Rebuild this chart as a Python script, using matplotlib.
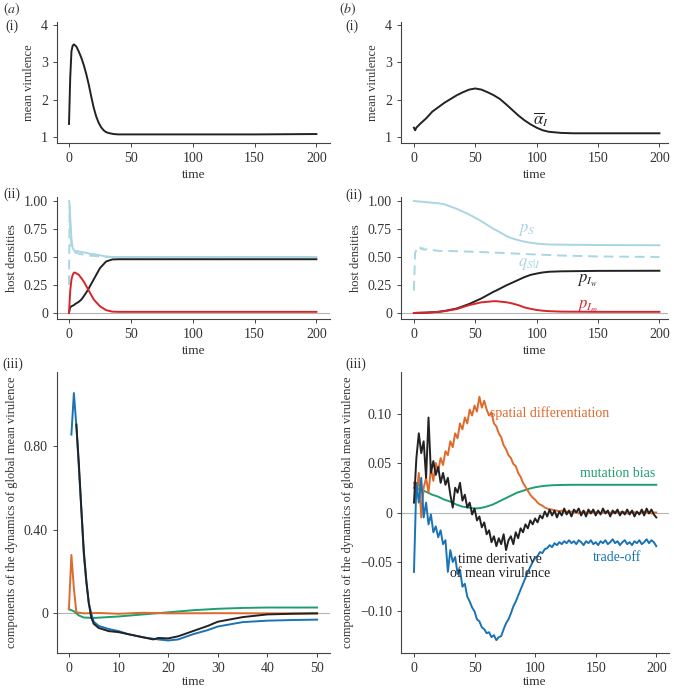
import numpy as np
import matplotlib
matplotlib.use("Agg")
import matplotlib.pyplot as plt

plt.rcParams['font.family'] = ['Liberation Serif', 'DejaVu Serif']
plt.rcParams['mathtext.fontset'] = 'stix'

#---------------------------- colours ----------------------------
c_black = '#222222'
c_lblue = '#a9d6e3'
c_red = '#d7262b'
c_orange = '#de6a2c'
c_green = '#1f9e6e'
c_blue = '#1a73b5'
c_grey = '#b5b5b5'

#---------------------------- (a)(i) mean virulence ----------------------------
t_a1 = [0, 1, 2, 3, 4, 6, 8, 10, 12, 14, 16, 18, 20, 22, 24, 26, 28, 30, 33, 36, 40, 60, 100, 150, 200]
vir_a1 = [1.35, 2.6, 3.3, 3.45, 3.48, 3.42, 3.28, 3.12, 2.92, 2.68, 2.4, 2.08, 1.78, 1.55, 1.38,
          1.26, 1.18, 1.13, 1.1, 1.08, 1.07, 1.07, 1.07, 1.07, 1.08]

#---------------------------- (b)(i) mean virulence ----------------------------
t_b1 = [0, 1, 2, 5, 10, 15, 20, 25, 30, 35, 40, 45, 50, 55, 60, 65, 70, 75, 80, 85, 90, 95,
        100, 105, 110, 120, 130, 150, 200]
vir_b1 = [1.25, 1.18, 1.25, 1.35, 1.5, 1.68, 1.8, 1.92, 2.02, 2.12, 2.2, 2.27, 2.3, 2.27, 2.2,
          2.12, 2.02, 1.88, 1.73, 1.58, 1.45, 1.34, 1.25, 1.18, 1.14, 1.11, 1.1, 1.1, 1.1]

#---------------------------- (a)(ii) host densities ----------------------------
t_a2 = [0, 0.5, 1, 2, 3, 4, 5, 8, 10, 12, 15, 16, 20, 25, 30, 35, 40, 60, 100, 150, 200]
pS_a2 = [1.0, 0.97, 0.85, 0.66, 0.58, 0.56, 0.555, 0.55, 0.545, 0.54, 0.535, 0.53, 0.525,
         0.515, 0.505, 0.5, 0.5, 0.5, 0.5, 0.5, 0.5]
qS_a2 = [0.25, 0.95, 0.75, 0.6, 0.56, 0.55, 0.54, 0.53, 0.525, 0.52, 0.515, 0.512, 0.51,
         0.505, 0.5, 0.5, 0.498, 0.498, 0.498, 0.498, 0.498]
pIw_a2 = [0.0, 0.03, 0.05, 0.06, 0.065, 0.07, 0.08, 0.1, 0.12, 0.15, 0.2, 0.22, 0.3, 0.4,
          0.46, 0.478, 0.48, 0.48, 0.48, 0.48, 0.48]
pIm_a2 = [0.0, 0.1, 0.2, 0.3, 0.34, 0.36, 0.36, 0.34, 0.31, 0.28, 0.22, 0.2, 0.12, 0.06,
          0.025, 0.012, 0.01, 0.01, 0.01, 0.01, 0.01]

#---------------------------- (b)(ii) host densities ----------------------------
t_b2 = [0, 10, 20, 25, 35, 45, 55, 60, 65, 67, 75, 78, 80, 85, 90, 95, 100, 105, 110, 120, 150, 200]
pS_b2 = [1.0, 0.99, 0.98, 0.97, 0.93, 0.88, 0.82, 0.785, 0.75, 0.74, 0.69, 0.675, 0.667,
         0.65, 0.637, 0.627, 0.62, 0.615, 0.612, 0.61, 0.607, 0.605]
pIw_b2 = [0.0, 0.003, 0.01, 0.018, 0.04, 0.08, 0.13, 0.16, 0.19, 0.2, 0.245, 0.26, 0.27,
          0.295, 0.32, 0.34, 0.352, 0.362, 0.368, 0.372, 0.376, 0.377]
pIm_b2 = [0.0, 0.003, 0.01, 0.016, 0.035, 0.07, 0.095, 0.1, 0.105, 0.105, 0.096, 0.09,
          0.085, 0.07, 0.05, 0.037, 0.027, 0.02, 0.016, 0.012, 0.01, 0.01]
t_b2q = [0, 1, 2, 3, 4, 5, 6, 7, 8, 10, 12, 15, 20, 30, 45, 60, 80, 100, 120, 150, 200]
qS_b2 = [0.2, 0.54, 0.56, 0.575, 0.565, 0.585, 0.57, 0.58, 0.565, 0.57, 0.558, 0.562, 0.555,
         0.553, 0.548, 0.542, 0.532, 0.522, 0.513, 0.505, 0.5]

#---------------------------- (a)(iii) components ----------------------------
t_a3_blue = [0.5, 1.0, 1.5, 2, 2.5, 3, 3.5, 4, 4.5, 5, 6, 8, 10, 12, 15, 18, 20, 22, 25, 28,
             30, 35, 40, 45, 50]
trade_a3 = [0.857, 1.056, 0.9, 0.7, 0.5, 0.28, 0.15, 0.05, 0.0, -0.04, -0.06, -0.075, -0.085,
            -0.1, -0.115, -0.125, -0.13, -0.125, -0.1, -0.08, -0.063, -0.042, -0.035, -0.032, -0.03]
t_a3_black = [1.5, 2, 2.5, 3, 3.5, 4, 4.5, 5, 6, 8, 10, 12, 15, 17, 18, 20, 22, 25, 28, 30,
              35, 40, 45, 50]
deriv_a3 = [0.905, 0.72, 0.5, 0.3, 0.16, 0.05, -0.02, -0.05, -0.07, -0.085, -0.09, -0.1,
            -0.115, -0.125, -0.118, -0.12, -0.11, -0.085, -0.06, -0.04, -0.018, -0.005, -0.002, 0.0]
t_a3_orange = [0, 0.5, 1.0, 1.5, 3, 6, 10, 15, 20, 30, 40, 50]
spatial_a3 = [0.02, 0.28, 0.12, 0.005, 0.0, 0.002, -0.002, 0.003, 0.0, 0.001, 0.0, 0.0]
t_a3_green = [0, 1, 2, 3, 5, 10, 15, 20, 25, 30, 35, 40, 50]
mutation_a3 = [0.02, 0.01, -0.01, -0.02, -0.022, -0.015, -0.005, 0.005, 0.015, 0.022, 0.026,
               0.028, 0.028]

#---------------------------- (b)(iii) components ----------------------------
t_b3 = np.arange(0, 201, 2)
spatial_b3 = [0.030, 0.015, 0.040, -0.005, 0.025, 0.035, 0.020, 0.045, 0.032, 0.050,
              0.042, 0.055, 0.048, 0.062, 0.058, 0.072, 0.066, 0.080, 0.075, 0.090,
              0.084, 0.096, 0.090, 0.104, 0.098, 0.108, 0.102, 0.117, 0.106, 0.113,
              0.104, 0.098, 0.101, 0.090, 0.087, 0.080, 0.076, 0.068, 0.064, 0.058,
              0.055, 0.049, 0.047, 0.040, 0.036, 0.030, 0.026, 0.022, 0.018, 0.015,
              0.013, 0.010, 0.008, 0.007, 0.005, 0.004, 0.003, 0.003, 0.002, 0.002,
              0.001, 0.002, 0.001, 0.001, 0.000,
              0.001, 0.000, 0.001, -0.001, 0.000, 0.001, 0.000, -0.001, 0.001, 0.000,
              0.000, 0.001, -0.001, 0.000, 0.001, 0.000, 0.000, -0.001, 0.001, 0.000,
              0.000, 0.001, 0.000, -0.001, 0.000, 0.001, 0.000, 0.000, -0.001, 0.000,
              0.001, 0.000, 0.000, -0.001, 0.000, 0.000]
deriv_b3 = [0.010, 0.055, 0.080, 0.060, 0.072, 0.035, 0.096, 0.040, 0.052, 0.038,
            0.046, 0.030, 0.040, 0.028, 0.035, 0.018, 0.005, 0.025, 0.020, 0.030,
            0.012, 0.018, 0.005, 0.010, -0.002, 0.004, -0.008, -0.004, -0.015, -0.010,
            -0.022, -0.018, -0.030, -0.024, -0.034, -0.026, -0.032, -0.022, -0.038, -0.028,
            -0.024, -0.032, -0.020, -0.026, -0.016, -0.020, -0.012, -0.016, -0.008, -0.012,
            -0.006, -0.010, -0.003, -0.006, 0.001, -0.004, 0.003, -0.003, 0.002, -0.005,
            0.001, -0.003, 0.004, -0.002, 0.002, -0.004, 0.003, 0.000, 0.004, -0.003,
            0.002, -0.004, 0.003, -0.001, 0.003, -0.003, 0.002, -0.002, 0.004, -0.001,
            0.002, -0.004, 0.002, -0.001, 0.003, -0.003, 0.001, -0.002, 0.003, -0.002,
            0.002, -0.004, 0.001, -0.002, 0.003, -0.003, 0.004, -0.001, 0.003, -0.002,
            -0.005]
trade_b3 = [-0.060, 0.030, 0.010, 0.035, -0.005, 0.010, -0.012, -0.002, -0.020, -0.014,
            -0.025, -0.018, -0.032, -0.028, -0.060, -0.038, -0.050, -0.045, -0.062, -0.058,
            -0.075, -0.072, -0.085, -0.090, -0.096, -0.100, -0.108, -0.110, -0.116, -0.118,
            -0.122, -0.121, -0.126, -0.124, -0.129, -0.126, -0.125, -0.118, -0.112, -0.108,
            -0.102, -0.095, -0.090, -0.084, -0.078, -0.072, -0.066, -0.060, -0.055, -0.050,
            -0.046, -0.044, -0.040, -0.041, -0.037, -0.036, -0.033, -0.035, -0.031, -0.033,
            -0.030, -0.032, -0.029, -0.031, -0.028, -0.031, -0.029, -0.032, -0.028, -0.030,
            -0.033, -0.029, -0.031, -0.028, -0.032, -0.030, -0.033, -0.029, -0.031, -0.028,
            -0.032, -0.030, -0.027, -0.031, -0.029, -0.033, -0.030, -0.028, -0.032, -0.030,
            -0.033, -0.029, -0.031, -0.028, -0.032, -0.030, -0.027, -0.031, -0.028, -0.030,
            -0.034]
t_b3_green = [0, 5, 10, 15, 20, 25, 30, 35, 40, 45, 50, 55, 60, 65, 70, 75, 80, 85, 90, 95,
              100, 105, 110, 115, 120, 130, 150, 200]
mutation_b3 = [0.025, 0.023, 0.021, 0.018, 0.016, 0.013, 0.011, 0.008, 0.006, 0.005, 0.004,
               0.0045, 0.006, 0.008, 0.011, 0.014, 0.017, 0.020, 0.022, 0.024, 0.0255, 0.0265,
               0.0272, 0.0276, 0.0278, 0.028, 0.028, 0.028]

#---------------------------- figure ----------------------------
W, H = 674, 691
fig = plt.figure(figsize=(W / 100, H / 100), dpi=100)


def box(l, t, r, b):
    return [l / W, 1 - b / H, (r - l) / W, (b - t) / H]


def style(ax, pad=3):
    for s in ['top', 'right']:
        ax.spines[s].set_visible(False)
    for s in ['left', 'bottom']:
        ax.spines[s].set_color('#444444')
        ax.spines[s].set_linewidth(0.8)
    ax.tick_params(colors='#444444', labelcolor='#333333', labelsize=10, length=3, width=0.7)
    ax.set_xlabel('time', fontsize=9.5, color='#333333', labelpad=pad)


lw = 1.4
ylab = dict(fontsize=9, color='#333333')
dash = (0, (5, 3))

ax1 = fig.add_axes(box(57, 22, 330, 143))
ax1.plot(t_a1, vir_a1, color=c_black, lw=lw)
ax1.set_xlim(-9.7, 211)
ax1.set_ylim(0.84, 4.08)
ax1.set_yticks([1, 2, 3, 4])
ax1.set_xticks([0, 50, 100, 150, 200])
ax1.set_ylabel('mean virulence', **ylab)
style(ax1)

ax2 = fig.add_axes(box(401, 22, 668, 143))
ax2.plot(t_b1, vir_b1, color=c_black, lw=lw)
ax2.text(97, 1.33, r'$\overline{\alpha}_I$', fontsize=12, color=c_black)
ax2.set_xlim(-10.5, 207)
ax2.set_ylim(0.84, 4.08)
ax2.set_yticks([1, 2, 3, 4])
ax2.set_xticks([0, 50, 100, 150, 200])
ax2.set_ylabel('mean virulence', **ylab)
style(ax2)

dens_ticks = [0, 0.25, 0.5, 0.75, 1.0]
dens_labels = ['0', '0.25', '0.50', '0.75', '1.00']

ax3 = fig.add_axes(box(57, 197, 330, 319))
ax3.axhline(0, color=c_grey, lw=0.8)
ax3.plot(t_a2, qS_a2, color=c_lblue, lw=lw, ls=dash)
ax3.plot(t_a2, pS_a2, color=c_lblue, lw=lw)
ax3.plot(t_a2, pIw_a2, color=c_black, lw=lw)
ax3.plot(t_a2, pIm_a2, color=c_red, lw=lw)
ax3.set_xlim(-9.7, 211)
ax3.set_ylim(-0.054, 1.036)
ax3.set_yticks(dens_ticks)
ax3.set_yticklabels(dens_labels)
ax3.set_xticks([0, 50, 100, 150, 200])
ax3.set_ylabel('host densities', **ylab)
style(ax3)

ax4 = fig.add_axes(box(401, 197, 668, 319))
ax4.axhline(0, color=c_grey, lw=0.8)
ax4.plot(t_b2q, qS_b2, color=c_lblue, lw=lw, ls=dash)
ax4.plot(t_b2, pS_b2, color=c_lblue, lw=lw)
ax4.plot(t_b2, pIw_b2, color=c_black, lw=lw)
ax4.plot(t_b2, pIm_b2, color=c_red, lw=lw)
ax4.text(85, 0.72, r'$p_S$', fontsize=12, color=c_lblue)
ax4.text(85, 0.42, r'$q_{S|I}$', fontsize=12, color=c_lblue)
ax4.text(133, 0.27, r'$p_{I_w}$', fontsize=12, color=c_black)
ax4.text(133, 0.04, r'$p_{I_m}$', fontsize=12, color=c_red)
ax4.set_xlim(-10.5, 207)
ax4.set_ylim(-0.054, 1.036)
ax4.set_yticks(dens_ticks)
ax4.set_yticklabels(dens_labels)
ax4.set_xticks([0, 50, 100, 150, 200])
ax4.set_ylabel('host densities', **ylab)
style(ax4)

ax5 = fig.add_axes(box(57, 372, 330, 653))
ax5.axhline(0, color=c_grey, lw=0.8)
ax5.plot(t_a3_green, mutation_a3, color=c_green, lw=lw)
ax5.plot(t_a3_orange, spatial_a3, color=c_orange, lw=lw)
ax5.plot(t_a3_blue, trade_a3, color=c_blue, lw=lw)
ax5.plot(t_a3_black, deriv_a3, color=c_black, lw=lw)
ax5.set_xlim(-2.4, 52.6)
ax5.set_ylim(-0.19, 1.157)
ax5.set_yticks([0, 0.4, 0.8])
ax5.set_yticklabels(['0', '0.40', '0.80'])
ax5.set_xticks([0, 10, 20, 30, 40, 50])
ax5.set_ylabel('components of the dynamics of global mean virulence', **ylab)
style(ax5, pad=0.5)

ax6 = fig.add_axes(box(401, 372, 669, 653))
ax6.axhline(0, color=c_grey, lw=0.8)
ax6.plot(t_b3_green, mutation_b3, color=c_green, lw=lw)
ax6.plot(t_b3, spatial_b3, color=c_orange, lw=lw)
ax6.plot(t_b3, trade_b3, color=c_blue, lw=lw)
ax6.plot(t_b3, deriv_b3, color=c_black, lw=lw)
ax6.text(112, 0.100, 'spatial differentiation', fontsize=10, color=c_orange, ha='center', va='center')
ax6.text(199, 0.039, 'mutation bias', fontsize=10, color=c_green, ha='right', va='center')
ax6.text(71, -0.055, 'time derivative\nof mean virulence', fontsize=10, color=c_black,
         ha='center', va='center', linespacing=1.1)
ax6.text(168, -0.045, 'trade-off', fontsize=10, color=c_blue, ha='center', va='center')
ax6.set_xlim(-10.7, 210.5)
ax6.set_ylim(-0.142, 0.142)
ax6.set_yticks([-0.1, -0.05, 0, 0.05, 0.1])
ax6.set_yticklabels(['\u22120.10', '\u22120.05', '0', '0.05', '0.10'])
ax6.set_xticks([0, 50, 100, 150, 200])
ax6.set_ylabel('components of the dynamics of global mean virulence', **ylab)
style(ax6, pad=0.5)

#---------------------------- panel labels ----------------------------
lab = dict(fontsize=10, color='#333333', va='center', ha='left')
fig.text(3 / W, 1 - 9 / H, r'$(a)$', **lab)
fig.text(339 / W, 1 - 9 / H, r'$(b)$', **lab)
fig.text(5 / W, 1 - 26 / H, '(i)', **lab)
fig.text(345 / W, 1 - 26 / H, '(i)', **lab)
fig.text(3 / W, 1 - 194 / H, '(ii)', **lab)
fig.text(345 / W, 1 - 195 / H, '(ii)', **lab)
fig.text(2 / W, 1 - 364 / H, '(iii)', **lab)
fig.text(345 / W, 1 - 364 / H, '(iii)', **lab)

fig.savefig('out.png', dpi=100)
